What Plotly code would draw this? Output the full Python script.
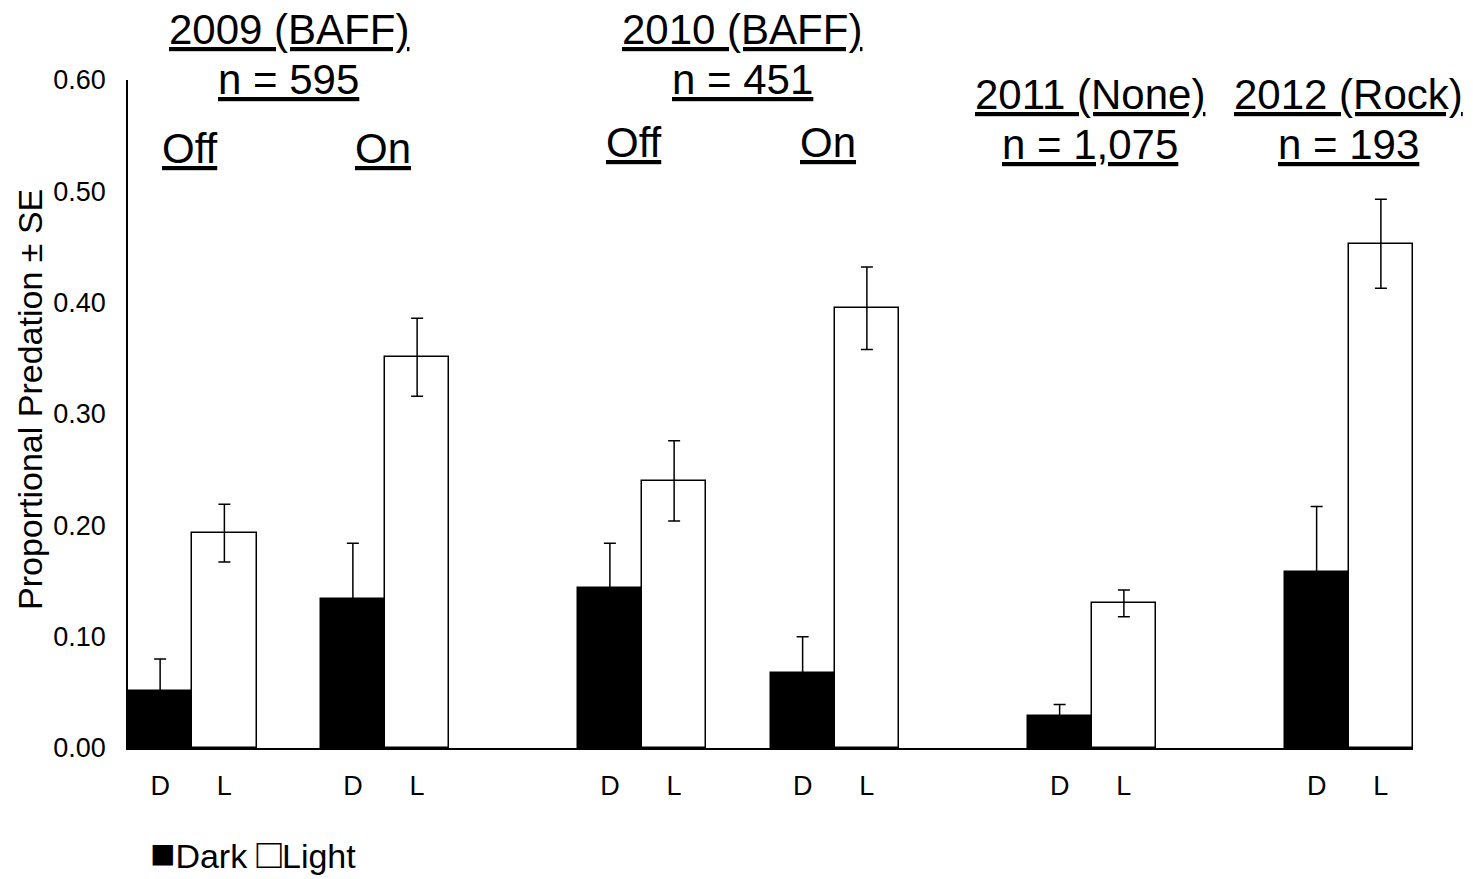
import plotly.graph_objects as go

# Proportional predation by season, light treatment and lighting condition
groups = ["2009 Off", "2009 On", "2010 Off", "2010 On", "2011", "2012"]
dark_mean = [0.051, 0.134, 0.144, 0.067, 0.029, 0.158]
dark_se = [0.029, 0.050, 0.040, 0.033, 0.010, 0.059]
light_mean = [0.193, 0.351, 0.240, 0.395, 0.130, 0.453]
light_se = [0.026, 0.035, 0.036, 0.037, 0.012, 0.040]
tick_text = ["D", "L"]

# Header text for each season block
season_titles = ["2009 (BAFF)", "2010 (BAFF)", "2011 (None)", "2012 (Rock)"]
season_n = ["n = 595", "n = 451", "n = 1,075", "n = 193"]
subgroup_labels = ["Off", "On"]

# Slot layout: each pair of bars occupies two slots; gaps separate pairs
pair_gaps = [0, 1, 2, 1, 2, 2]  # empty slots before each pair
starts = []
pos = 0
for g in pair_gaps:
    pos += g
    starts.append(pos)
    pos += 2
x_dark = [s for s in starts]
x_light = [s + 1 for s in starts]
n_slots = pos

FONT = "Liberation Sans, Arial, sans-serif"
W, H = 1473, 879
L_M, R_M, T_M, B_M = 128, 60, 80, 131
plot_h = H - T_M - B_M
plot_w = W - L_M - R_M


def py(pix):
    """Convert a pixel row to paper coordinates."""
    return (H - B_M - pix) / plot_h


def px(pix):
    """Convert a pixel column to paper coordinates."""
    return (pix - L_M) / plot_w


def ul(s):
    return f'<span style="text-decoration:underline;text-decoration-skip-ink:none">{s}</span>'


fig = go.Figure()
fig.add_trace(go.Bar(
    x=x_dark, y=dark_mean, width=1, name="Dark",
    marker=dict(color="black", line=dict(color="black", width=1.5)),
    error_y=dict(type="data", array=dark_se, color="black", thickness=1.5, width=6),
))
fig.add_trace(go.Bar(
    x=x_light, y=light_mean, width=1, name="Light",
    marker=dict(color="white", line=dict(color="black", width=1.5)),
    error_y=dict(type="data", array=light_se, color="black", thickness=1.5, width=6),
))

HEAD = dict(size=42, family=FONT, color="black")
ann = []
# Season headers
title_x = [(starts[0] + starts[1] + 1) / 2, (starts[2] + starts[3] + 1) / 2 + 0.06,
           starts[4] + 0.47, starts[5] + 0.49]
title_y = [30, 30, 95, 95]
n_y = [79, 79, 144, 144]
for tx, ty, ny, t, n in zip(title_x, title_y, n_y, season_titles, season_n):
    ann.append(dict(x=tx, y=py(ty), xref="x", yref="paper", text=ul(t),
                    showarrow=False, font=HEAD, xanchor="center", yanchor="middle"))
    ann.append(dict(x=tx, y=py(ny), xref="x", yref="paper", text=ul(n),
                    showarrow=False, font=HEAD, xanchor="center", yanchor="middle"))

# Off / On labels over the BAFF seasons
sub_pos = [(starts[0] + 0.47, 148, subgroup_labels[0]), (starts[1] + 0.47, 148, subgroup_labels[1]),
           (starts[2] + 0.38, 142, subgroup_labels[0]), (starts[3] + 0.39, 142, subgroup_labels[1])]
for sx, sy, lbl in sub_pos:
    ann.append(dict(x=sx, y=py(sy), xref="x", yref="paper", text=ul(lbl),
                    showarrow=False, font=HEAD, xanchor="center", yanchor="middle"))

# Y axis title
ann.append(dict(x=px(30), y=py(400), xref="paper", yref="paper",
                text="Proportional Predation ± SE", textangle=-90, showarrow=False,
                font=dict(size=34, family=FONT, color="black"),
                xanchor="center", yanchor="middle"))

# Legend text
ann.append(dict(x=px(148), y=py(853), xref="paper", yref="paper",
                text='<span style="font-size:42px">■</span>Dark '
                     '<span style="font-size:42px">□</span>Light',
                showarrow=False,
                font=dict(size=34, family=FONT, color="black"),
                xanchor="left", yanchor="middle"))

fig.update_layout(
    width=W, height=H,
    margin=dict(l=L_M, r=R_M, t=T_M, b=B_M, autoexpand=False),
    paper_bgcolor="white", plot_bgcolor="white",
    showlegend=False, barmode="overlay", bargap=0,
    font=dict(family=FONT, color="black"),
    annotations=ann,
    xaxis=dict(range=[-0.5, n_slots - 0.5], tickmode="array",
               tickvals=x_dark + x_light,
               ticktext=[tick_text[0]] * len(x_dark) + [tick_text[1]] * len(x_light),
               showline=True, linecolor="black", linewidth=1.5, ticks="",
               showgrid=False, zeroline=False, tickfont=dict(size=27, family=FONT),
               ticklabelstandoff=13),
    yaxis=dict(range=[0, 0.6], tickmode="array", tickvals=[0, 0.1, 0.2, 0.3, 0.4, 0.5, 0.6],
               tickformat=".2f", showline=True, linecolor="black", linewidth=1.5,
               ticks="", showgrid=False, zeroline=False,
               tickfont=dict(size=27, family=FONT), ticklabelstandoff=15),
)

fig.write_html("out.html")
